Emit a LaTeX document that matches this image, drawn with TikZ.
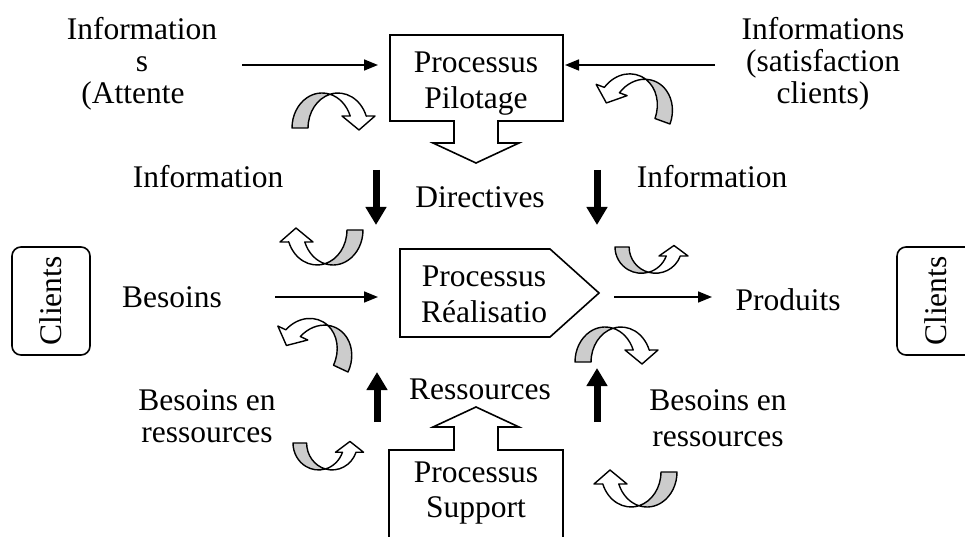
\documentclass[tikz,border=0pt]{standalone}
\usepackage{fontspec}
\setmainfont{Liberation Serif}
\usetikzlibrary{arrows.meta}
\definecolor{ribbon}{gray}{0.8}
\tikzset{
  lbl/.style={anchor=base, inner sep=0pt, font=\fontsize{31.5}{36}\selectfont},
  outline/.style={draw=black, line width=1.6pt, line join=miter},
  flow/.style={line width=1.6pt, -{Triangle[length=14pt,width=11pt]}},
  heavy/.style={line width=7pt, -{Triangle[length=18pt,width=20pt]}},
  % twisted ribbon arrow: grey back face on the left, white front face ending in a head
  curl/.pic={
    \filldraw[fill=ribbon, line width=1.4pt, line join=round]
      (0,0) arc[start angle=180, end angle=74.5, x radius=30pt, y radius=35pt]
            arc[start angle=105.5, end angle=180, x radius=30pt, y radius=35pt] -- cycle;
    \filldraw[fill=white, line width=1.4pt, line join=round]
      (38,33.7) arc[start angle=105.5, end angle=20, x radius=30pt, y radius=35pt]
      -- (83,12) -- (67,-2) -- (50,12) -- (58.2,12)
      arc[start angle=20, end angle=74.5, x radius=30pt, y radius=35pt] -- cycle;
  }
}
\begin{document}
\begin{tikzpicture}[x=1pt, y=1pt]
\useasboundingbox (0,0) rectangle (965,536);
\clip (0,0) rectangle (965,536);
\fill[white] (0,0) rectangle (965,536);

% pilot process with its downward callout arrow
\draw[outline] (390,501) -- (563,501) -- (563,415) -- (498,415) -- (498,393) -- (519,393)
  -- (476,373) -- (433,393) -- (454,393) -- (454,415) -- (390,415) -- cycle;
\node[lbl] (pil1) at (476,463) {Processus};
\node[lbl] (pil2) at (476,427) {Pilotage};

% support process with its upward callout arrow
\draw[outline] (389,-5) -- (389,86) -- (454,86) -- (454,109) -- (433,109) -- (476,129)
  -- (519,109) -- (498,109) -- (498,86) -- (563,86) -- (563,-5);
\node[lbl] (sup1) at (476,54) {Processus};
\node[lbl] (sup2) at (476,19) {Support};

% realisation process
\draw[outline] (400,287) -- (550,287) -- (599,243) -- (550,199) -- (400,199) -- cycle;
\node[lbl] (rea1) at (484,250) {Processus};
\node[lbl] (rea2) at (484,214) {Réalisatio};

% customers on both sides
\draw[outline, rounded corners=9pt] (12,289) rectangle (90,181);
\node[lbl, anchor=center, rotate=90] (cl) at (51,235) {Clients};
\draw[outline, rounded corners=9pt] (897,289) rectangle (975,181);
\node[lbl, anchor=center, rotate=90] (cr) at (936,235) {Clients};

% labels
\node[lbl] (in1) at (142,496) {Information};
\node[lbl] (in2) at (142,464) {s};
\node[lbl] (in3) at (133,432) {(Attente};
\node[lbl] (is1) at (823,496) {Informations};
\node[lbl] (is2) at (823,464) {(satisfaction};
\node[lbl] (is3) at (823,432) {clients)};
\node[lbl] (ifl) at (208,348) {Information};
\node[lbl] (ifr) at (712,348) {Information};
\node[lbl] (dir) at (480,328) {Directives};
\node[lbl] (bes) at (172,229) {Besoins};
\node[lbl] (pro) at (788,226) {Produits};
\node[lbl] (res) at (480,137) {Ressources};
\node[lbl] (brl1) at (207,126) {Besoins en};
\node[lbl] (brl2) at (207,94) {ressources};
\node[lbl] (brr1) at (718,126) {Besoins en};
\node[lbl] (brr2) at (718,90) {ressources};

% connector ends
\coordinate (e1a) at (242,471); \coordinate (e1b) at (378,471);
\coordinate (e2a) at (715,471); \coordinate (e2b) at (565,471);
\coordinate (e3a) at (275,239); \coordinate (e3b) at (378,239);
\coordinate (e4a) at (614,239); \coordinate (e4b) at (712,239);
\coordinate (d1a) at (376,366); \coordinate (d1b) at (376,311);
\coordinate (d2a) at (597,366); \coordinate (d2b) at (597,311);
\coordinate (u1a) at (377,114); \coordinate (u1b) at (377,164);
\coordinate (u2a) at (597,114); \coordinate (u2b) at (597,168);

\draw[flow] (e1a) -- (e1b);
\draw[flow] (e2a) -- (e2b);
\draw[flow] (e3a) -- (e3b);
\draw[flow] (e4a) -- (e4b);
\draw[heavy] (d1a) -- (d1b);
\draw[heavy] (d2a) -- (d2b);
\draw[heavy] (u1a) -- (u1b);
\draw[heavy] (u2a) -- (u2b);

% feedback ribbons
\pic at (292,408) {curl};
\pic[rotate=-20, xscale=-1] at (670,412) {curl};
\pic[rotate=180] at (363,306) {curl};
\pic[xscale=0.88, yscale=-0.75] at (615,289) {curl};
\pic[rotate=-25, xscale=-1] at (348,164) {curl};
\pic at (575,174) {curl};
\pic[xscale=0.85, yscale=-0.77] at (293,93) {curl};
\pic[rotate=180] at (677,64) {curl};
\end{tikzpicture}
\end{document}
